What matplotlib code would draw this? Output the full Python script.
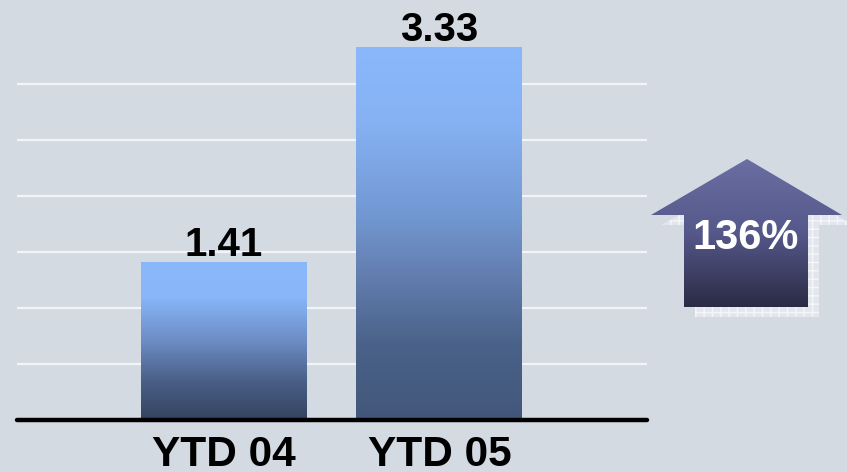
import numpy as np
import matplotlib
matplotlib.use("Agg")
import matplotlib.pyplot as plt
from matplotlib.colors import LinearSegmentedColormap
from matplotlib.patches import Polygon

# ---- data ----
categories = ["YTD 04", "YTD 05"]
values = [1.41, 3.33]
value_labels = ["1.41", "3.33"]
growth_label = "136%"
grid_levels = [0.5, 1.0, 1.5, 2.0, 2.5, 3.0]

BG = "#D3DAE2"
FONT = "Liberation Sans"

W, H = 847, 472
fig = plt.figure(figsize=(W / 100, H / 100), dpi=100)
fig.patch.set_facecolor(BG)

ax = fig.add_axes([17 / W, (H - 420) / H, 630 / W, 420 / H])
ax.set_facecolor(BG)
x = np.arange(len(categories))
width = 0.77
ax.set_xlim(-0.96, 1.963)
ax.set_ylim(0, 3.75)

for g in grid_levels:
    ax.axhline(g, color="#F2F4F7", lw=1.6, zorder=1)

bars = ax.bar(x, values, width, color="none", edgecolor="none", zorder=2)

stops = [
    [(0.0, "#33445E"), (0.25, "#4A6088"), (0.5, "#6C8CC4"), (0.78, "#88B6F8"), (1.0, "#8AB8FA")],
    [(0.0, "#42577A"), (0.2, "#4A6289"), (0.4, "#6480B2"), (0.55, "#7298D2"), (0.8, "#86B2F4"), (1.0, "#8AB8FA")],
]
for b, st in zip(bars, stops):
    cmap = LinearSegmentedColormap.from_list("g", st)
    grad = np.linspace(1, 0, 256).reshape(-1, 1)
    x0, y0 = b.get_x(), b.get_y()
    im = ax.imshow(grad, cmap=cmap, vmin=0, vmax=1, aspect="auto",
                   extent=[x0, x0 + b.get_width(), y0, y0 + b.get_height()],
                   zorder=2, interpolation="bilinear")
    im.set_clip_path(b)

ax.set_xlim(-0.96, 1.963)
ax.set_ylim(0, 3.75)

for xi, v, lab in zip(x, values, value_labels):
    ax.text(xi, v + 0.05, lab, ha="center", va="baseline", fontsize=29,
            fontweight="bold", family=FONT, color="black", zorder=4)

ax.axhline(0, color="black", lw=3.2, solid_capstyle="round", zorder=5, clip_on=False)

ax.set_xticks(x)
ax.set_xticklabels(categories, fontsize=30.5, fontweight="bold", family=FONT)
ax.tick_params(axis="x", length=0, pad=11)
ax.set_yticks([])
for s in ax.spines.values():
    s.set_visible(False)

# ---- growth arrow (pixel coordinates overlay) ----
ov = fig.add_axes([0, 0, 1, 1])
ov.set_xlim(0, W)
ov.set_ylim(H, 0)
ov.axis("off")
ov.patch.set_visible(False)

arrow = [(747, 159), (842, 215), (808, 215), (808, 307), (684, 307), (684, 215), (651, 215)]
shadow = [(px + 11, py + 10) for px, py in arrow]
sh = Polygon(shadow, closed=True, facecolor="#E3E7ED", edgecolor="none", zorder=1)
ov.add_patch(sh)
shh = Polygon(shadow, closed=True, facecolor="none", edgecolor="#F4F6F9", lw=0,
              hatch="++", zorder=1.5)
ov.add_patch(shh)

ar = Polygon(arrow, closed=True, facecolor="none", edgecolor="none", zorder=2)
ov.add_patch(ar)
acmap = LinearSegmentedColormap.from_list("a", ["#6A6EA2", "#55588A", "#2B2B45"])
agrad = np.linspace(0, 1, 256).reshape(-1, 1)
aim = ov.imshow(agrad, cmap=acmap, aspect="auto", extent=[651, 842, 307, 159],
                zorder=2, interpolation="bilinear")
aim.set_clip_path(ar)
ov.set_xlim(0, W)
ov.set_ylim(H, 0)
ov.text(746, 238, growth_label, ha="center", va="center", fontsize=30,
        fontweight="bold", family=FONT, color="white", zorder=3)

fig.savefig("out.png", dpi=100, facecolor=BG)
